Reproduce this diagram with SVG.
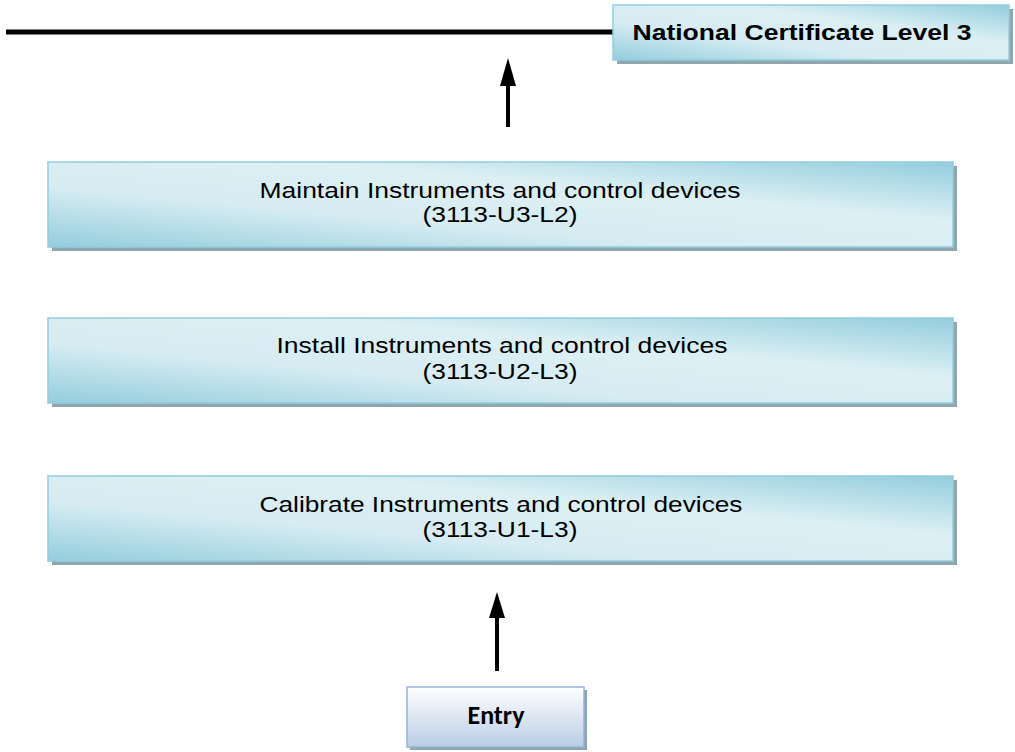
<svg xmlns="http://www.w3.org/2000/svg" width="1015" height="752" viewBox="0 0 1015 752">
<style>
.lbl{font-family:"Liberation Sans",Arial,sans-serif;font-size:22px;fill:#000;text-anchor:middle}
.bold{font-weight:bold}
.entry{font-family:Carlito,"Liberation Sans",Arial,sans-serif;font-size:26px;font-weight:bold;fill:#000;text-anchor:middle}
.shadow{fill:#8fa6ae}
.box{fill:url(#aqua);stroke:#93cddd;stroke-width:1.5}
.conn{stroke:#000;stroke-width:4;fill:none}
</style>
<defs>
<linearGradient id="aqua" x1="0" y1="1" x2="1" y2="0">
<stop offset="0" stop-color="#93cddd"/>
<stop offset="0.35" stop-color="#d6ecf2"/>
<stop offset="0.65" stop-color="#dcf0f4"/>
<stop offset="1" stop-color="#93cddd"/>
</linearGradient>
<linearGradient id="blue" x1="0" y1="0" x2="0" y2="1">
<stop offset="0" stop-color="#ffffff"/>
<stop offset="1" stop-color="#b9cde5"/>
</linearGradient>
</defs>
<g id="connectors">
<line x1="6" y1="32" x2="613" y2="32" stroke="#000" stroke-width="5"/>
<line class="conn" x1="508" y1="127" x2="508" y2="85"/>
<path d="M508,58 L516,86 L500,86 Z" fill="#000"/>
<line class="conn" x1="497" y1="671" x2="497" y2="616"/>
<path d="M497,592 L505,618 L489,618 Z" fill="#000"/>
</g>
<g id="national">
<rect class="shadow" x="617" y="9" width="396" height="55"/>
<rect class="box" x="613" y="5" width="396" height="55"/>
<text class="lbl bold" x="802" y="40" textLength="339" lengthAdjust="spacingAndGlyphs">National Certificate Level 3</text>
</g>
<g id="maintain">
<rect class="shadow" x="52" y="166" width="905" height="85"/>
<rect class="box" x="48" y="162" width="905" height="85"/>
<text class="lbl" x="500" y="198" textLength="481" lengthAdjust="spacingAndGlyphs">Maintain Instruments and control devices</text>
<text class="lbl" x="500" y="222" textLength="155" lengthAdjust="spacingAndGlyphs">(3113-U3-L2)</text>
</g>
<g id="install">
<rect class="shadow" x="52" y="322" width="905" height="85"/>
<rect class="box" x="48" y="318" width="905" height="85"/>
<text class="lbl" x="502" y="353" textLength="451" lengthAdjust="spacingAndGlyphs">Install Instruments and control devices</text>
<text class="lbl" x="500" y="379" textLength="155" lengthAdjust="spacingAndGlyphs">(3113-U2-L3)</text>
</g>
<g id="calibrate">
<rect class="shadow" x="52" y="480" width="905" height="85"/>
<rect class="box" x="48" y="476" width="905" height="85"/>
<text class="lbl" x="501" y="512" textLength="483" lengthAdjust="spacingAndGlyphs">Calibrate Instruments and control devices</text>
<text class="lbl" x="500" y="537" textLength="155" lengthAdjust="spacingAndGlyphs">(3113-U1-L3)</text>
</g>
<g id="entry">
<rect class="shadow" x="410" y="690" width="177" height="60"/>
<rect x="407" y="687" width="177" height="60" fill="url(#blue)" stroke="#95b3d7" stroke-width="1.5"/>
<text class="entry" x="496" y="724">Entry</text>
</g>
</svg>
